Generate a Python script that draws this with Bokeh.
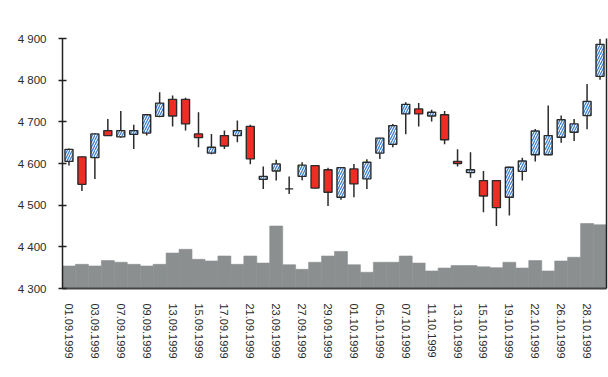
from bokeh.plotting import figure
from bokeh.models import ColumnDataSource, FixedTicker, Range1d, LinearAxis
from bokeh.embed import file_html
from bokeh.resources import INLINE

dates = ["01.09.1999", "02.09.1999", "03.09.1999", "06.09.1999", "07.09.1999", "08.09.1999",
         "09.09.1999", "10.09.1999", "13.09.1999", "14.09.1999", "15.09.1999", "16.09.1999",
         "17.09.1999", "20.09.1999", "21.09.1999", "22.09.1999", "23.09.1999", "24.09.1999",
         "27.09.1999", "28.09.1999", "29.09.1999", "30.09.1999", "01.10.1999", "04.10.1999",
         "05.10.1999", "06.10.1999", "07.10.1999", "08.10.1999", "11.10.1999", "12.10.1999",
         "13.10.1999", "14.10.1999", "15.10.1999", "18.10.1999", "19.10.1999", "21.10.1999",
         "22.10.1999", "25.10.1999", "26.10.1999", "27.10.1999", "28.10.1999", "29.10.1999"]

open_ = [4605, 4616, 4614, 4679, 4664, 4670, 4673, 4713, 4754, 4754, 4671, 4625, 4667, 4667,
         4689, 4562, 4582, 4539, 4569, 4595, 4585, 4519, 4587, 4563, 4625, 4646, 4719, 4731,
         4714, 4717, 4605, 4578, 4559, 4559, 4519, 4581, 4621, 4621, 4663, 4675, 4715, 4809]
high = [4636, 4617, 4672, 4707, 4726, 4693, 4718, 4771, 4763, 4758, 4723, 4671, 4679, 4703,
        4693, 4593, 4609, 4569, 4603, 4596, 4590, 4591, 4599, 4610, 4662, 4695, 4747, 4745,
        4729, 4726, 4634, 4627, 4582, 4560, 4592, 4614, 4683, 4739, 4715, 4707, 4791, 4899]
low = [4595, 4534, 4563, 4666, 4662, 4635, 4667, 4711, 4689, 4679, 4639, 4622, 4635, 4651,
       4598, 4539, 4559, 4527, 4560, 4540, 4498, 4513, 4519, 4539, 4611, 4639, 4670, 4689,
       4701, 4646, 4593, 4566, 4483, 4450, 4475, 4559, 4605, 4620, 4650, 4654, 4682, 4801]
close = [4634, 4550, 4671, 4667, 4679, 4679, 4717, 4745, 4714, 4695, 4662, 4639, 4642, 4679,
         4611, 4569, 4599, 4539, 4596, 4541, 4531, 4590, 4551, 4603, 4661, 4691, 4742, 4719,
         4723, 4657, 4600, 4585, 4522, 4494, 4591, 4606, 4678, 4667, 4705, 4695, 4749, 4886]
volume = [54, 58, 54, 67, 63, 58, 54, 58, 85, 94, 70, 66, 78, 58, 78, 61, 150, 57, 46, 63, 78,
          89, 57, 39, 63, 63, 78, 61, 42, 49, 55, 55, 52, 50, 63, 49, 67, 42, 66, 75, 156, 153]

y_ticks = [4300, 4400, 4500, 4600, 4700, 4800, 4900]
y_tick_labels = ["4 300", "4 400", "4 500", "4 600", "4 700", "4 800", "4 900"]

n = len(dates)
x = list(range(n))
top = [max(o, c) for o, c in zip(open_, close)]
bottom = [min(o, c) for o, c in zip(open_, close)]
up_idx = [i for i in x if close[i] >= open_[i]]
dn_idx = [i for i in x if close[i] < open_[i]]

def sub(idx):
    return ColumnDataSource(dict(x=[x[i] for i in idx], top=[top[i] for i in idx],
                                 bottom=[bottom[i] for i in idx]))

p = figure(width=608, height=377, output_backend="svg", toolbar_location=None,
           x_range=Range1d(-0.5, n - 0.5), y_range=Range1d(y_ticks[0], y_ticks[-1]),
           min_border_left=62, min_border_right=2, min_border_top=38, min_border_bottom=89)
p.outline_line_color = None
p.xgrid.visible = False
p.ygrid.visible = False
p.extra_y_ranges = {"vol": Range1d(0, 600)}

p.vbar(x=x, top=volume, bottom=0, width=1, y_range_name="vol",
       fill_color="#8b8f90", line_color="#8b8f90", line_width=0.6)

p.segment(x0=x, y0=low, x1=x, y1=high, line_color="#2b2b2b", line_width=1.5)
p.vbar(source=sub(dn_idx), x="x", top="top", bottom="bottom", width=0.62,
       fill_color="#ee2d24", line_color="#2b2b2b", line_width=1.4)
p.vbar(source=sub(up_idx), x="x", top="top", bottom="bottom", width=0.62,
       fill_color="white", line_color="#2b2b2b", line_width=1.4,
       hatch_pattern="/", hatch_color="#3f7fcc", hatch_scale=5, hatch_weight=1.3)

font = "Liberation Sans"
p.yaxis.ticker = FixedTicker(ticks=y_ticks)
p.yaxis.major_label_overrides = {t: l for t, l in zip(y_ticks, y_tick_labels)}
p.yaxis.major_tick_in = 4
p.yaxis.major_tick_out = 4
p.yaxis.minor_tick_line_color = None
p.yaxis.axis_line_color = "#222222"
p.yaxis.axis_line_width = 1.5
p.yaxis.major_tick_line_color = "#222222"
p.yaxis.major_tick_line_width = 1.5
p.yaxis.major_label_standoff = 12
p.yaxis.major_label_text_font = font
p.yaxis.major_label_text_font_size = "11.5px"
p.yaxis.major_label_text_color = "#2a2a2a"

even = list(range(0, n, 2))
p.xaxis.ticker = FixedTicker(ticks=even)
p.xaxis.major_label_overrides = {i: dates[i] for i in even}
p.xaxis.major_label_orientation = "vertical"
p.xaxis.major_tick_line_color = None
p.xaxis.minor_tick_line_color = None
p.xaxis.axis_line_color = "#444444"
p.xaxis.axis_line_width = 2
p.xaxis.major_label_standoff = 9
p.xaxis.major_label_text_font = font
p.xaxis.major_label_text_font_size = "11px"
p.xaxis.major_label_text_color = "#2a2a2a"

right = LinearAxis(y_range_name="vol", ticker=FixedTicker(ticks=[]),
                   axis_line_color="#222222", axis_line_width=1.5,
                   major_tick_line_color=None, minor_tick_line_color=None)
p.add_layout(right, "right")

open("out.html", "w").write(file_html(p, INLINE))
